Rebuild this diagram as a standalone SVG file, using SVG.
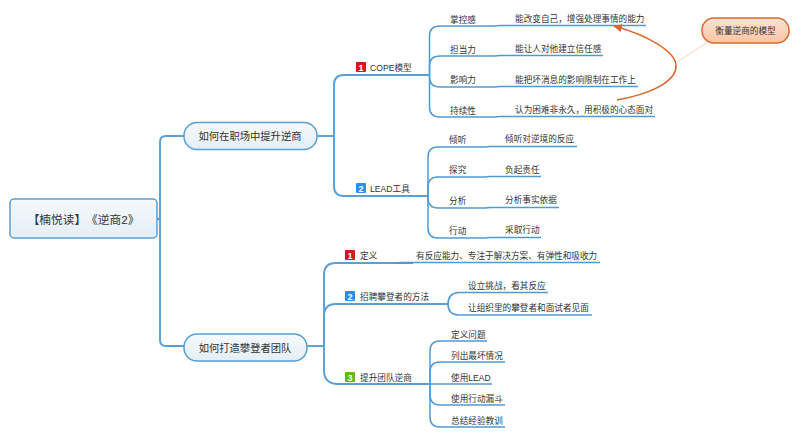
<svg xmlns="http://www.w3.org/2000/svg" width="800" height="438" viewBox="0 0 800 438">
<defs>
<linearGradient id="g" x1="0" y1="0" x2="0" y2="1"><stop offset="0" stop-color="#f6f9fc"/><stop offset="1" stop-color="#e4eef7"/></linearGradient>
<linearGradient id="o" x1="0" y1="0" x2="0" y2="1"><stop offset="0" stop-color="#fde3d3"/><stop offset="1" stop-color="#f9c4a4"/></linearGradient>
<marker id="arr" markerWidth="9" markerHeight="8" refX="8" refY="4" orient="auto" markerUnits="userSpaceOnUse"><path d="M0 0L9 4L0 8Z" fill="#d9682e"/></marker>
</defs>
<style>
text{font-family:"Liberation Sans","Noto Sans CJK SC",sans-serif;fill:#333;font-size:8.65px;text-spacing-trim:space-all}
.c path{fill:none;stroke:#4f9ad4;stroke-width:1.5}
.t path{stroke-width:1.9;stroke:#5a9fd6}
.box{fill:url(#g);stroke:#5a9fd6;stroke-width:1.5}
.m{font-size:10.3px;text-anchor:middle}
.b{font-size:9px;font-weight:bold;fill:#fff;text-anchor:middle}
</style>
<rect width="800" height="438" fill="#fff"/>
<g class="c t" id="connectors-main">
<path d="M157 219H160V142Q160 136 166 136H184"/>
<path d="M160 219V340Q160 346 166 346H184"/>
<path d="M317 136H334"/>
<path d="M334 136V85Q334 75 344 75H429"/>
<path d="M334 136V186Q334 196 344 196H428"/>
<path d="M307 346H324"/>
<path d="M324 346V275Q324 263 336 263H413"/>
<path d="M324 346V316Q324 304 336 304H448"/>
<path d="M324 346V370Q324 384 338 384H430"/>
</g>
<g class="c" id="connectors">
<path d="M429.500 75V36Q429.500 26 440 26H495L500 25.500H646"/>
<path d="M429.500 75V66Q429.500 56 440 56H495L500 55.500H603"/>
<path d="M429.500 75V77Q429.500 87 440 87H495L500 86.500H638"/>
<path d="M429.500 75V107Q429.500 117 440 117H495L500 116.500H655"/>
<path d="M428 196V157Q428 147 438 147H485L490 146.500H577"/>
<path d="M428 196V187Q428 177 438 177H485L490 176.500H541"/>
<path d="M428 196V198Q428 208 438 208H485L490 207.500H559"/>
<path d="M428 196V228Q428 238 438 238H485L490 237.500H541"/>
<path d="M413 263H395L400 262.500H600"/>
<path d="M448 304Q448 293 459 292.500H548"/>
<path d="M448 304Q448 315 459 315H592"/>
<path d="M430 384V351Q430 341 440 341H487"/>
<path d="M430 384V372Q430 362 440 362H505"/>
<path d="M430 384H492"/>
<path d="M430 384V395Q430 405 440 405H505"/>
<path d="M430 384V417Q430 427 440 427H505"/>
</g>
<g id="callout-link">
<path d="M677 62L708 42" fill="none" stroke="#f8d3bc" stroke-width="1"/>
<path d="M617 100C660 92 677 78 676 65C675 52 650 36 614 26" fill="none" stroke="#d9682e" stroke-width="1.500" marker-end="url(#arr)"/>
</g>
<g id="root"><rect class="box" x="10" y="199" width="147" height="39" rx="4"/><text x="83.500" y="224" class="m" style="font-size:11.7px">【楠悦读】《逆商2》</text></g>
<g id="topic1"><rect class="box" x="184" y="122.500" width="133" height="27" rx="13"/><text x="250" y="140" class="m">如何在职场中提升逆商</text></g>
<g id="topic2"><rect class="box" x="184" y="334" width="123" height="27" rx="13"/><text x="245" y="352" class="m">如何打造攀登者团队</text></g>
<g id="cope"><rect x="356" y="62" width="10" height="10" rx="1" fill="#d8141c"/><text x="361" y="70.500" class="b">1</text><text x="370" y="71">COPE模型</text></g>
<g id="lead"><rect x="356" y="183" width="10" height="10" rx="1" fill="#2a8ff0"/><text x="361" y="191.500" class="b">2</text><text x="370" y="192">LEAD工具</text></g>
<g id="n1"><text x="450" y="23">掌控感</text></g>
<g id="n1a"><text x="515" y="22">能改变自己，增强处理事情的能力</text></g>
<g id="n2"><text x="450" y="53">担当力</text></g>
<g id="n2a"><text x="515" y="52">能让人对他建立信任感</text></g>
<g id="n3"><text x="450" y="83">影响力</text></g>
<g id="n3a"><text x="515" y="83">能把坏消息的影响限制在工作上</text></g>
<g id="n4"><text x="450" y="114">持续性</text></g>
<g id="n4a"><text x="515" y="113">认为困难非永久，用积极的心态面对</text></g>
<g id="l1"><text x="449" y="143">倾听</text></g>
<g id="l1a"><text x="505" y="142">倾听对逆境的反应</text></g>
<g id="l2"><text x="449" y="173">探究</text></g>
<g id="l2a"><text x="505" y="173">负起责任</text></g>
<g id="l3"><text x="449" y="204">分析</text></g>
<g id="l3a"><text x="505" y="203">分析事实依据</text></g>
<g id="l4"><text x="449" y="234">行动</text></g>
<g id="l4a"><text x="505" y="233">采取行动</text></g>
<g id="d1"><rect x="345" y="250" width="10" height="10" rx="1" fill="#d8141c"/><text x="350" y="258.500" class="b">1</text><text x="360" y="259">定义</text></g>
<g id="d1a"><text x="416" y="259">有反应能力、专注于解决方案、有弹性和吸收力</text></g>
<g id="d2"><rect x="345" y="291" width="10" height="10" rx="1" fill="#2a8ff0"/><text x="350" y="299.500" class="b">2</text><text x="360" y="300">招聘攀登者的方法</text></g>
<g id="d2a"><text x="468" y="289">设立挑战，看其反应</text></g>
<g id="d2b"><text x="468" y="311">让组织里的攀登者和面试者见面</text></g>
<g id="d3"><rect x="345" y="372" width="10" height="10" rx="1" fill="#62b814"/><text x="350" y="380.500" class="b">3</text><text x="360" y="381">提升团队逆商</text></g>
<g id="e1"><text x="451" y="338">定义问题</text></g>
<g id="e2"><text x="451" y="359">列出最坏情况</text></g>
<g id="e3"><text x="451" y="381">使用LEAD</text></g>
<g id="e4"><text x="451" y="402">使用行动漏斗</text></g>
<g id="e5"><text x="451" y="424">总结经验教训</text></g>
<g id="callout"><rect x="702" y="18" width="87" height="25" rx="12" fill="url(#o)" stroke="#d9682e" stroke-width="1.500"/><text x="745.500" y="34" text-anchor="middle">衡量逆商的模型</text></g>
</svg>
